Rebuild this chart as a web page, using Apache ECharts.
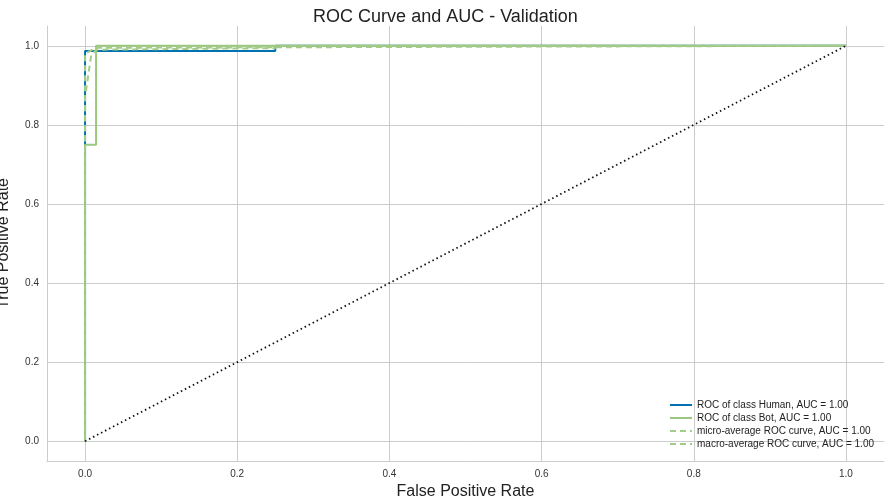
<!DOCTYPE html>
<html><head><meta charset="utf-8">
<script src="https://cdn.jsdelivr.net/npm/echarts@6/dist/echarts.min.js"></script>
<style>html,body{margin:0;background:#fff}#c{width:891px;height:504px}</style>
</head><body><div id="c"></div>
<script>
const humanRoc = [[0,0],[0,0.987],[0.25,0.987],[0.25,1],[1,1]];
const botRoc = [[0,0],[0,0.75],[0.0145,0.75],[0.0145,1],[1,1]];
const microRoc = [[0,0],[0,0.87],[0.008,0.975],[0.0145,0.99],[0.25,0.994],[0.25,1],[1,1]];
const macroRoc = [[0,0],[0,0.98],[0.0145,0.995],[0.0145,1],[1,1]];
const diagonal = [[0,0],[1,1]];
const ticks = [0,0.2,0.4,0.6,0.8,1.0];

const chart = echarts.init(document.getElementById('c'));
const font = 'Liberation Sans';
const axisCommon = {
  min: -0.05, max: 1.05,
  splitLine: {show: true, lineStyle: {color: '#cccccc'}},
  axisLine: {show: true, onZero: false, lineStyle: {color: '#cccccc'}},
  axisLabel: {color: '#333', fontSize: 10, fontFamily: font,
    customValues: ticks, formatter: v => v.toFixed(1)},
  axisTick: {show: false, customValues: ticks}
};
chart.setOption({
  animation: false,
  textStyle: {fontFamily: font},
  title: {text: 'ROC Curve and AUC - Validation', left: 'center', top: 3,
    textStyle: {fontSize: 18, fontWeight: 'normal', color: '#222', fontFamily: font}},
  grid: {left: 47, right: 7, top: 26, bottom: 43, containLabel: false, outerBoundsMode: 'none'},
  xAxis: Object.assign({type: 'value', name: 'False Positive Rate', nameLocation: 'middle', nameGap: 22,
    nameTextStyle: {fontSize: 16, color: '#222'}}, axisCommon),
  yAxis: Object.assign({type: 'value', name: 'True Positive Rate', nameLocation: 'middle', nameGap: 35,
    nameTextStyle: {fontSize: 16, color: '#222'}}, axisCommon),
  legend: {right: 12, bottom: 50, orient: 'vertical', itemWidth: 22, itemHeight: 8, itemGap: 3,
    itemStyle: {opacity: 0},
    textStyle: {fontSize: 10, color: '#222'},
    data: ['ROC of class Human, AUC = 1.00','ROC of class Bot, AUC = 1.00',
      'micro-average ROC curve, AUC = 1.00','macro-average ROC curve, AUC = 1.00']},
  series: [
    {name: 'ROC of class Human, AUC = 1.00', type: 'line', data: humanRoc, symbol: 'none',
      lineStyle: {color: '#0072b2', width: 2}, itemStyle: {color: '#0072b2'}},
    {name: 'ROC of class Bot, AUC = 1.00', type: 'line', data: botRoc, symbol: 'none',
      lineStyle: {color: '#9bc77e', width: 2}, itemStyle: {color: '#9bc77e'}},
    {name: 'micro-average ROC curve, AUC = 1.00', type: 'line', data: microRoc, symbol: 'none',
      lineStyle: {color: '#a3cc87', width: 2, type: [6,4]}, itemStyle: {color: '#a3cc87'}},
    {name: 'macro-average ROC curve, AUC = 1.00', type: 'line', data: macroRoc, symbol: 'none',
      lineStyle: {color: '#a3cc87', width: 2, type: [6,4]}, itemStyle: {color: '#a3cc87'}},
    {type: 'line', data: diagonal, symbol: 'none',
      lineStyle: {color: '#111', width: 1.8, type: [1.5,3]}}
  ]
});
</script></body></html>
